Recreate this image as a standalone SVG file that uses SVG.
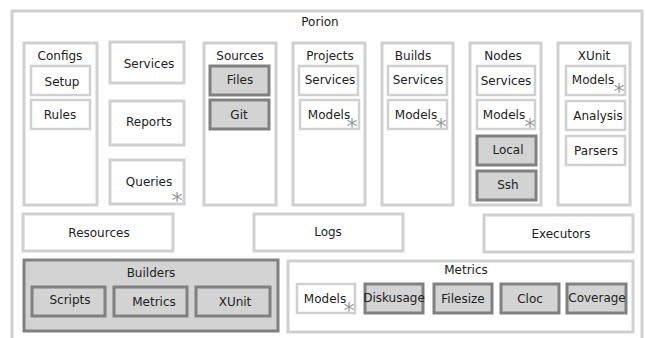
<svg xmlns="http://www.w3.org/2000/svg" width="646" height="338" viewBox="0 0 646 338">
<style>
text{font-family:"DejaVu Sans",sans-serif;font-size:12px;fill:#222;text-anchor:middle}
.c{fill:#fff;stroke:#d0d0d0;stroke-width:3}
.g{fill:#d3d3d3;stroke:#808080;stroke-width:3}
.s{fill:#fff;stroke:#d0d0d0;stroke-width:2.5}
.ast{font-size:22px;fill:#999}
</style>
<rect width="646" height="338" fill="#fff"/>
<g id="porion"><rect class="c" x="12" y="11" width="630" height="340"/><text x="320" y="26">Porion</text></g>
<g id="configs"><rect class="c" x="24" y="43" width="73" height="162"/><text x="60" y="60">Configs</text>
<g id="configs-setup"><rect class="s" x="31" y="66" width="59" height="29"/><text x="62" y="86">Setup</text></g>
<g id="configs-rules"><rect class="s" x="31" y="100" width="59" height="29"/><text x="60" y="119">Rules</text></g></g>
<g id="services"><rect class="c" x="110" y="42" width="74" height="41"/><text x="149" y="68">Services</text></g>
<g id="reports"><rect class="c" x="110" y="101" width="74" height="44"/><text x="149" y="126">Reports</text></g>
<g id="queries"><rect class="c" x="110" y="160" width="74" height="44"/><text x="149" y="186">Queries</text><text class="ast" x="177" y="208">*</text></g>
<g id="sources"><rect class="c" x="204" y="43" width="72" height="162"/><text x="240" y="60">Sources</text>
<g id="sources-files"><rect class="g" x="210" y="66" width="59" height="29"/><text x="240" y="84">Files</text></g>
<g id="sources-git"><rect class="g" x="210" y="100" width="59" height="29"/><text x="239" y="119">Git</text></g></g>
<g id="projects"><rect class="c" x="293" y="43" width="72" height="162"/><text x="330" y="60">Projects</text>
<g id="projects-services"><rect class="s" x="299" y="66" width="59" height="29"/><text x="330" y="84">Services</text></g>
<g id="projects-models"><rect class="s" x="300" y="100" width="59" height="29"/><text x="329" y="119">Models</text><text class="ast" x="352" y="134">*</text></g></g>
<g id="builds"><rect class="c" x="382" y="43" width="71" height="162"/><text x="413" y="60">Builds</text>
<g id="builds-services"><rect class="s" x="388" y="66" width="59" height="29"/><text x="418" y="84">Services</text></g>
<g id="builds-models"><rect class="s" x="388" y="100" width="59" height="29"/><text x="416" y="119">Models</text><text class="ast" x="441" y="134">*</text></g></g>
<g id="nodes"><rect class="c" x="470" y="43" width="71" height="162"/><text x="503" y="60">Nodes</text>
<g id="nodes-services"><rect class="s" x="477" y="66" width="58" height="29"/><text x="506" y="85">Services</text></g>
<g id="nodes-models"><rect class="s" x="477" y="100" width="58" height="29"/><text x="504" y="119">Models</text><text class="ast" x="530" y="134">*</text></g>
<g id="nodes-local"><rect class="g" x="477" y="136" width="59" height="29"/><text x="508" y="154">Local</text></g>
<g id="nodes-ssh"><rect class="g" x="477" y="171" width="59" height="29"/><text x="508" y="189">Ssh</text></g></g>
<g id="xunit"><rect class="c" x="558" y="43" width="72" height="162"/><text x="594" y="60">XUnit</text>
<g id="xunit-models"><rect class="s" x="566" y="66" width="59" height="29"/><text x="593" y="84">Models</text><text class="ast" x="619" y="99">*</text></g>
<g id="xunit-analysis"><rect class="s" x="566" y="101" width="59" height="29"/><text x="598" y="120">Analysis</text></g>
<g id="xunit-parsers"><rect class="s" x="566" y="136" width="59" height="29"/><text x="596" y="155">Parsers</text></g></g>
<g id="resources"><rect class="c" x="23" y="214" width="150" height="37"/><text x="99" y="237">Resources</text></g>
<g id="logs"><rect class="c" x="254" y="214" width="149" height="37"/><text x="328" y="236">Logs</text></g>
<g id="executors"><rect class="c" x="484" y="215" width="149" height="37"/><text x="561" y="238">Executors</text></g>
<g id="builders"><rect class="g" x="24" y="260" width="254" height="71"/><text x="151" y="277">Builders</text>
<g id="builders-scripts"><rect class="g" x="32" y="287" width="73" height="29"/><text x="70" y="304">Scripts</text></g>
<g id="builders-metrics"><rect class="g" x="114" y="287" width="73" height="29"/><text x="154" y="306">Metrics</text></g>
<g id="builders-xunit"><rect class="g" x="196" y="287" width="74" height="29"/><text x="235" y="306">XUnit</text></g></g>
<g id="metrics"><rect class="c" x="288" y="261" width="345" height="71"/><text x="466" y="274">Metrics</text>
<g id="metrics-models"><rect class="s" x="297" y="284" width="58" height="29"/><text x="325" y="303">Models</text><text class="ast" x="349" y="318">*</text></g>
<g id="metrics-diskusage"><rect class="g" x="365" y="284" width="58" height="29"/><text x="394" y="302">Diskusage</text></g>
<g id="metrics-filesize"><rect class="g" x="434" y="284" width="58" height="29"/><text x="463" y="303">Filesize</text></g>
<g id="metrics-cloc"><rect class="g" x="501" y="284" width="58" height="29"/><text x="530" y="303">Cloc</text></g>
<g id="metrics-coverage"><rect class="g" x="567" y="284" width="59" height="29"/><text x="597" y="302">Coverage</text></g></g>
<g id="connectors"/>
</svg>
